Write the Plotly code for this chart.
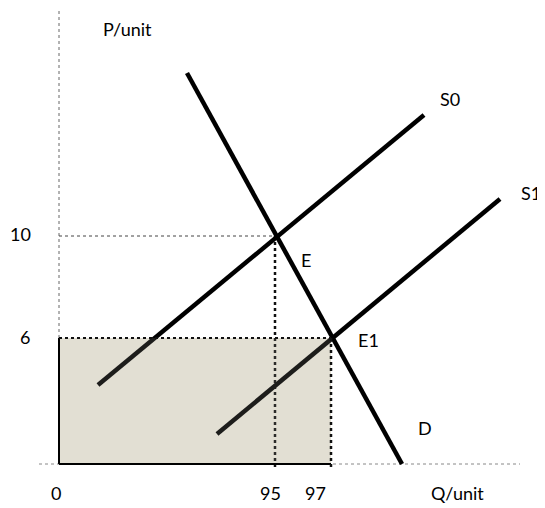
import plotly.graph_objects as go

# ---- Diagram data (schematic units, origin at 0,0) ----
# Demand curve D
demand_q = [128, 343]
demand_p = [391, 0]
# Original supply S0
s0_q = [39, 365]
s0_p = [79, 349]
# Shifted supply S1
s1_q = [158, 441]
s1_p = [30, 265]
# Equilibria E and E1
eq_names = ["E", "E1"]
eq_q = [216, 272]
eq_p = [228, 126]
# Axis extents
axis_q_max = 461
axis_q_min = -20
axis_p_max = 460

# Tick / text labels
price_labels = ["10", "6"]
qty_labels = ["0", "95", "97"]

FONT = "Lato, Open Sans, sans-serif"
fig = go.Figure()

# axes (thin dotted)
fig.add_trace(go.Scatter(x=[0, 0], y=[0, axis_p_max], mode="lines",
                         line=dict(color="#666", width=1, dash="dot"), hoverinfo="skip"))
fig.add_trace(go.Scatter(x=[axis_q_min, axis_q_max], y=[0, 0], mode="lines",
                         line=dict(color="#888", width=1, dash="dot"), hoverinfo="skip"))

# guide line at P = 10
fig.add_trace(go.Scatter(x=[0, eq_q[0]], y=[eq_p[0], eq_p[0]], mode="lines",
                         line=dict(color="#444", width=1, dash="dot"), hoverinfo="skip"))
# guide line at Q = 95
fig.add_trace(go.Scatter(x=[eq_q[0], eq_q[0]], y=[eq_p[0], -3], mode="lines",
                         line=dict(color="#111", width=2.5, dash="dot"), hoverinfo="skip"))

# curves
for q, p in [(demand_q, demand_p), (s0_q, s0_p), (s1_q, s1_p)]:
    fig.add_trace(go.Scatter(x=q, y=p, mode="lines",
                             line=dict(color="#000", width=4.5), hoverinfo="skip"))

# shaded rectangle (revenue area) - base fill below, tint overlay above
fig.add_shape(type="rect", x0=0, x1=eq_q[1], y0=0, y1=eq_p[1], layer="below",
              line=dict(width=0), fillcolor="#e3dfd4")
fig.add_shape(type="rect", x0=0, x1=eq_q[1], y0=0, y1=eq_p[1], layer="above",
              line=dict(width=0), fillcolor="rgba(227,223,212,0.13)")
# rectangle borders
fig.add_shape(type="line", x0=0, x1=0, y0=0, y1=eq_p[1], layer="above",
              line=dict(color="#000", width=2))
fig.add_shape(type="line", x0=0, x1=eq_q[1], y0=0, y1=0, layer="above",
              line=dict(color="#000", width=2))
fig.add_shape(type="line", x0=0, x1=eq_q[1], y0=eq_p[1], y1=eq_p[1], layer="above",
              line=dict(color="#111", width=2, dash="dot"))
fig.add_shape(type="line", x0=eq_q[1], x1=eq_q[1], y0=eq_p[1], y1=-4, layer="above",
              line=dict(color="#111", width=2.5, dash="dot"))

def label(text, x, y):
    fig.add_annotation(x=x, y=y, text=text, showarrow=False,
                       font=dict(family=FONT, size=18, color="#000"),
                       xanchor="center", yanchor="middle")

label("P/unit", 68, 435)
label("Q/unit", 398, -29)
label(price_labels[0], -39, 230)
label(price_labels[1], -34, 127)
label(qty_labels[0], -3, -29)
label(qty_labels[1], 211, -29)
label(qty_labels[2], 256, -29)
label(eq_names[0], 247, 204)
label(eq_names[1], 309, 124)
label("D", 366, 36)
label("S0", 391, 365)
label("S1", 472, 271)

fig.update_layout(
    width=537, height=500,
    margin=dict(l=0, r=0, t=0, b=0),
    paper_bgcolor="white", plot_bgcolor="white",
    showlegend=False,
    xaxis=dict(range=[-51, 486], visible=False, fixedrange=True),
    yaxis=dict(range=[-44, 456], visible=False, fixedrange=True),
)

fig.write_html("out.html")
